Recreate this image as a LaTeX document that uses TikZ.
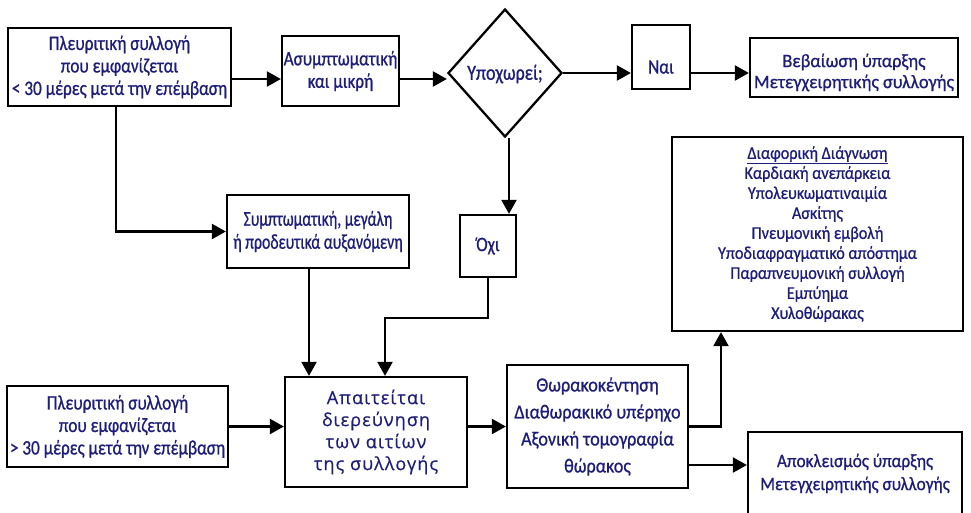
\documentclass[tikz,border=0pt]{standalone}
\usepackage{fontspec}
\setmainfont{Carlito}
\newfontfamily\condf[FakeStretch=0.84,FakeBold=0.8]{Carlito}
\newfontfamily\condg[FakeStretch=0.75,FakeBold=0.8]{Carlito}
\newfontfamily\nfa[FakeStretch=0.91,FakeBold=0.8]{Carlito}
\newfontfamily\nfb[FakeStretch=0.9,FakeBold=0.8]{Carlito}
\newfontfamily\nfe[FakeStretch=0.96,FakeBold=0.8]{Carlito}
\newfontfamily\widef[LetterSpace=6,FakeBold=0.5]{Open Sans}
\usetikzlibrary{arrows.meta,shapes.geometric}
\definecolor{txt}{RGB}{30,30,120}
\tikzset{
  box/.style={draw, line width=2.3pt, inner sep=0pt, align=center, text=txt},
  arr/.style={line width=2.3pt, -{Triangle[length=14pt,width=15pt]}},
  cf/.style={font=\condf\fontsize{20.5}{22.5}\selectfont},
  lbl/.style={inner sep=0pt, align=center, text=txt},
}
\begin{document}
\begin{tikzpicture}[x=1pt,y=-1pt]
\clip (0,0) rectangle (971,512);
\fill[white] (0,0) rectangle (971,512);
% nodes
\node[box, cf, minimum width=223pt, minimum height=78pt] (A) at (119.5,67)
  {Πλευριτική συλλογή\\που εμφανίζεται\\< 30 μέρες μετά την επέμβαση};
\node[box, cf, minimum width=117pt, minimum height=70pt] (B) at (340.5,71)
  {Ασυμπτωματική\\και μικρή};
\node[draw, line width=2.3pt, diamond, inner sep=0pt, minimum width=114pt, minimum height=128pt] (D) at (505,73) {};
\node[lbl, font=\condf\fontsize{21.5}{23}\selectfont] (Dt) at ([yshift=-1pt]D.center) {Υποχωρεί;};
\node[box, minimum width=58pt, minimum height=64pt] (N) at (661,57) {};
\node[lbl, cf] (Nt) at ([yshift=-10pt]N.center) {Ναι};
\node[box, minimum width=208pt, minimum height=59pt] (E) at (854,67.5) {};
\node[lbl, font=\nfe\fontsize{19}{21}\selectfont] (Et) at ([yshift=-5pt]E.center)
  {Βεβαίωση ύπαρξης\\Μετεγχειρητικής συλλογής};
\node[box, cf, minimum width=56pt, minimum height=62pt] (O) at (488,246) {Όχι};
\node[box, font=\condg\fontsize{21}{23}\selectfont, minimum width=182pt, minimum height=73pt] (S) at (318,231.5)
  {Συμπτωματική, μεγάλη\\ή προδευτικά αυξανόμενη};
\node[box, font=\widef\fontsize{18}{22}\selectfont, minimum width=182pt, minimum height=110pt] (P) at (376,432)
  {Απαιτείται\\διερεύνηση\\των αιτίων\\της συλλογής};
\node[box, cf, minimum width=221pt, minimum height=81pt] (C) at (117.5,426.5)
  {Πλευριτική συλλογή\\που εμφανίζεται\\> 30 μέρες μετά την επέμβαση};
\node[box, font=\nfa\fontsize{20}{27}\selectfont, minimum width=181pt, minimum height=123pt] (T) at (597.5,426.5)
  {Θωρακοκέντηση\\Διαθωρακικό υπέρηχο\\Αξονική τομογραφία\\θώρακος};
\node[box, font=\nfb\fontsize{18}{20}\selectfont, minimum width=291pt, minimum height=194pt] (Dd) at (817.5,234)
  {\underline{Διαφορική Διάγνωση}\\Καρδιακή ανεπάρκεια\\Υπολευκωματιναιμία\\Ασκίτης\\Πνευμονική εμβολή\\Υποδιαφραγματικό απόστημα\\Παραπνευμονική συλλογή\\Εμπύημα\\Χυλοθώρακας};
\node[box, font=\nfa\fontsize{19}{23}\selectfont, minimum width=214pt, minimum height=83pt] (X) at (855,473.5)
  {Αποκλεισμός ύπαρξης\\Μετεγχειρητικής συλλογής};
% helper coordinates
\coordinate (y79) at (0,79);
\coordinate (y73) at (0,73);
\coordinate (y465) at (0,465);
\coordinate (x721) at (721,0);
\coordinate (x116) at (116,0);
\coordinate (x309) at (309,0);
\coordinate (x385) at (385,0);
\coordinate (x509) at (509,0);
% connectors
\draw[arr] (A.east |- y79) -- (B.west |- y79);
\draw[arr] (B.east |- y79) -- (D.west |- y79);
\draw[arr] (D.east |- y73) -- (N.west |- y73);
\draw[arr] (N.east |- y73) -- (E.west |- y73);
\draw[arr] (x509 |- D.south) -- (x509 |- O.north);
\draw[arr] (x116 |- A.south) |- (S.west);
\draw[arr] (x309 |- S.south) -- (x309 |- P.north);
\draw[arr] (O.south) -- ++(0,40) -| (x385 |- P.north);
\draw[arr] (C.east) -- (C.east -| P.west);
\draw[arr] (C.east -| P.east) -- (C.east -| T.west);
\draw[arr] (T.east) -| (x721 |- Dd.south);
\draw[arr] (T.east |- y465) -- (X.west |- y465);
\end{tikzpicture}
\end{document}
